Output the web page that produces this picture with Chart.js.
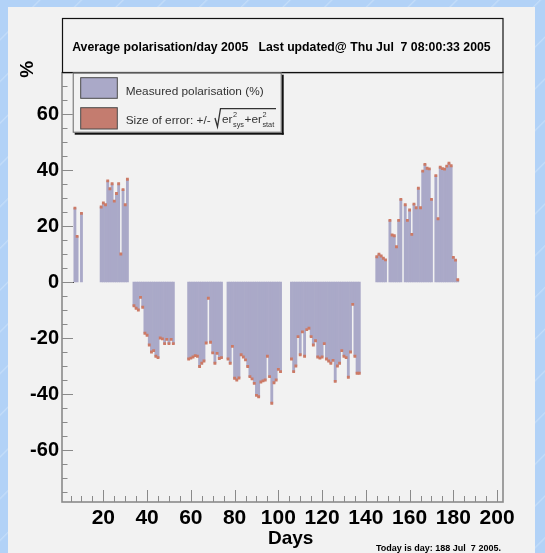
<!DOCTYPE html>
<html>
<head>
<meta charset="utf-8">
<title>Average polarisation/day 2005</title>
<script src="https://cdn.jsdelivr.net/npm/chart.js@4.4.1/dist/chart.umd.min.js"></script>
<style>
  html, body { margin: 0; padding: 0; width: 545px; height: 553px; overflow: hidden; }
  body {
    background: repeating-linear-gradient(135deg, #b2d2f7 0px, #b2d2f7 27px, #c4ddf9 28px, #b2d2f7 29.5px);
  }
  #panel { position: absolute; left: 8px; top: 7px; width: 527px; height: 546px; background: #f2f2f2; }
  #chart { position: absolute; left: 0; top: 0; }
</style>
</head>
<body>
<div id="panel"></div>
<canvas id="chart" width="545" height="553"></canvas>
<script>
document.addEventListener('DOMContentLoaded', function () {
    // --- data: average polarisation per day (%), null = no measurement that day ---
    const firstDay = 7;
    const polarisation = [
        26.4, 16.3, null, 24.5,                                  // days 7-10
        null, null, null, null, null, null, null, null,          // 11-18
        26.8, 28.2, 27.6, 36.1, 33.3, 35.1, 28.9, 31.6, 35.1, 10.0, 33.0, 27.6, 36.7, // 19-31
        null, null,                                              // 32-33
        -8.5, -9.4, -10, -5.5, -9, -18.3, -19, -22.5, -25, -24.5,
        -26.5, -27, -20, -20.3, -22, -20.5, -22, -20.5, -22,     // 34-52
        null, null, null, null, null, null,                      // 53-58
        -27.5, -27.2, -26.8, -26.3, -26.5, -30.2, -29, -28.2,
        -21.8, -5.8, -21.5, -25.3, -29, -25.5, -27.3, -27,       // 59-74
        null, null,                                              // 75-76
        -27.5, -29, -23, -34.4, -35, -34.3, -26, -26.8, -27.8, -30.2, -33.8, -34.6, -36.2,
        -40.5, -41, -35.7, -35.3, -35, -26.5, -33.8, -43.3, -36, -35, -31.2, -32, // 77-101
        null, null, null, null,                                  // 102-105
        -27.5, -32, -30, -19.5, -26, -17.8, -26.5, -17, -16.5, -19.5, -22.5, -21, -26.8, -27.2, -26.8, -22,
        -27.5, -28.2, -29, -28, -35.5, -30, -29, -24.5, -26.5, -27, -34, -25, -8, -26.5, -32.6, -32.6, // 106-137
        null, null, null, null, null, null, null,                // 138-144
        9, 9.9, 9.3, 8.5, 7.9,                                   // 145-149
        null,                                                    // 150
        22, 16.8, 16.5, 12.6, 22, 29.5, null, 27.6, 22, 25.7, 17, 27.8, 26.5, 33.5, 26.5, 39.6,
        42, 40.6, 40.4, 29.5, null, 38, 22.6, 41, 40.5, 40.3, 41.4, 42.4, 41.5, 8.8, 7.8, 0.8 // 151-182
    ];
    const errorSize = 0.4;
    const xTickValues = [20, 40, 60, 80, 100, 120, 140, 160, 180, 200];
    const yTickValues = [-60, -40, -20, 0, 20, 40, 60];

    const titleText = 'Average polarisation/day 2005   Last updated@ Thu Jul  7 08:00:33 2005';
    const legendText = 'Measured polarisation (%)';
    const errorText = 'Size of error: +/- ';
    const footerText = 'Today is day: 188 Jul  7 2005.';

    const FAMILY = '"Liberation Sans", Arial, Helvetica, sans-serif';
    const BAR_COLOR = '#aaa9c8';
    const ERR_COLOR = '#cc7a66';
    const AXIS_COLOR = '#8a8a8a';

    const barPoints = polarisation.map((v, i) => ({ x: firstDay + i, y: v }));
    const errPoints = barPoints
        .filter(p => p.y !== null)
        .map(p => ({ x: p.x, y: [p.y - errorSize, p.y + errorSize] }));

    // font size that makes a string span a given width
    function fitSize(ctx, text, width, weight) {
        ctx.font = weight + ' 20px ' + FAMILY;
        return 20 * width / ctx.measureText(text).width;
    }

    function hline(ctx, x1, x2, y) { ctx.beginPath(); ctx.moveTo(x1, y); ctx.lineTo(x2, y); ctx.stroke(); }
    function vline(ctx, x, y1, y2) { ctx.beginPath(); ctx.moveTo(x, y1); ctx.lineTo(x, y2); ctx.stroke(); }

    const rootStyle = {
        id: 'rootStyle',
        afterDatasetsDraw(chart) {
            const { ctx, chartArea: a, scales: { x, y } } = chart;
            ctx.save();
            // empty bins before the first measurement sit on the zero line
            ctx.strokeStyle = '#222';
            ctx.lineWidth = 1;
            const y0 = Math.round(y.getPixelForValue(0)) + 0.5;
            hline(ctx, a.left, x.getPixelForValue(firstDay - 0.5), y0);

            // frame
            ctx.strokeStyle = AXIS_COLOR;
            ctx.lineWidth = 1.6;
            ctx.strokeRect(a.left, a.top, a.right - a.left, a.bottom - a.top);

            // ticks point inwards
            ctx.lineWidth = 1;
            for (let v = -75; v <= 70; v += 5) {
                const py = Math.round(y.getPixelForValue(v)) + 0.5;
                hline(ctx, a.left, a.left + (v % 20 === 0 ? 11 : 5.5), py);
            }
            for (let d = 5; d <= 200; d += 5) {
                const px = Math.round(x.getPixelForValue(d)) + 0.5;
                vline(ctx, px, a.bottom, a.bottom - (d % 20 === 0 ? 12 : 6));
            }
            ctx.restore();
        },
        afterDraw(chart) {
            const ctx = chart.ctx;
            ctx.save();

            // title pave
            ctx.fillStyle = '#f2f2f2';
            ctx.fillRect(62.5, 18.5, 440.5, 54);
            ctx.strokeStyle = '#111';
            ctx.lineWidth = 1.2;
            ctx.strokeRect(62.5, 18.5, 440.5, 54);
            ctx.fillStyle = '#000';
            ctx.textAlign = 'center';
            ctx.textBaseline = 'alphabetic';
            ctx.font = 'bold ' + fitSize(ctx, titleText, 419, 'bold') + 'px ' + FAMILY;
            ctx.fillText(titleText, 281.4, 50.5);

            // legend pave with shadow
            const L = 72.7, T = 72.7, R = 281.7, B = 132.7;
            ctx.fillStyle = '#f2f2f2';
            ctx.fillRect(L, T, R - L, B - T);
            ctx.fillStyle = '#111';
            ctx.fillRect(R, T + 2, 2, B - T);
            ctx.fillRect(L + 2, B, R - L, 2);
            ctx.strokeStyle = '#666';
            ctx.lineWidth = 1;
            ctx.strokeRect(L + 0.5, T + 0.5, R - L - 1, B - T - 1);

            ctx.fillStyle = BAR_COLOR;
            ctx.fillRect(80.7, 77.7, 36.6, 20.6);
            ctx.strokeStyle = '#4a4a4a';
            ctx.strokeRect(80.7, 77.7, 36.6, 20.6);
            ctx.fillStyle = '#c47c6f';
            ctx.fillRect(80.7, 107.7, 36.6, 21.3);
            ctx.strokeRect(80.7, 107.7, 36.6, 21.3);

            ctx.fillStyle = '#333';
            ctx.textAlign = 'left';
            const ls = fitSize(ctx, legendText, 138, 'normal');
            ctx.font = ls + 'px ' + FAMILY;
            ctx.fillText(legendText, 125.7, 94.5);

            // Size of error: +/- sqrt(er_sys^2 + er_stat^2)
            const base = 123.5;
            ctx.fillText(errorText, 125.7, base);
            let cx = 125.7 + ctx.measureText(errorText).width + 1;
            ctx.strokeStyle = '#333';
            ctx.lineWidth = 1.3;
            ctx.beginPath();
            ctx.moveTo(cx, 118);
            ctx.lineTo(cx + 2.5, 126.8);
            ctx.lineTo(cx + 5.5, 108.7);
            ctx.lineTo(276, 108.7);
            ctx.stroke();
            cx += 7;
            const small = ls * 0.62;
            const parts = [['er', '2', 'sys'], ['+er', '2', 'stat']];
            parts.forEach(([main, sup, sub]) => {
                ctx.font = ls + 'px ' + FAMILY;
                ctx.fillText(main, cx, base - 1);
                cx += ctx.measureText(main).width;
                ctx.font = small + 'px ' + FAMILY;
                ctx.fillText(sup, cx + 0.5, base - 7);
                ctx.fillText(sub, cx + 0.5, base + 3.5);
                cx += Math.max(ctx.measureText(sup).width, ctx.measureText(sub).width) + 1;
            });

            // axis titles
            ctx.fillStyle = '#000';
            ctx.textAlign = 'center';
            ctx.font = 'bold 19px ' + FAMILY;
            ctx.fillText('Days', 290.7, 543.5);
            ctx.save();
            ctx.translate(32.5, 69.2);
            ctx.rotate(-Math.PI / 2);
            ctx.textBaseline = 'alphabetic';
            ctx.font = 'bold 19px ' + FAMILY;
            ctx.fillText('%', 0, 0);
            ctx.restore();

            // footer
            ctx.textAlign = 'left';
            ctx.font = 'bold ' + fitSize(ctx, footerText, 125, 'bold') + 'px ' + FAMILY;
            ctx.fillText(footerText, 376, 550.5);

            ctx.restore();
        }
    };

    new Chart(document.getElementById('chart'), {
        type: 'bar',
        data: {
            datasets: [{
                label: 'error',
                data: errPoints,
                backgroundColor: ERR_COLOR,
                order: 0,
                grouped: false,
                barPercentage: 1,
                categoryPercentage: 1
            }, {
                label: legendText,
                data: barPoints,
                backgroundColor: BAR_COLOR,
                order: 1,
                grouped: false,
                barPercentage: 1,
                categoryPercentage: 1
            }]
        },
        options: {
            responsive: false,
            animation: false,
            layout: { padding: { left: 0, top: 72.7, right: 42, bottom: 0 } },
            plugins: {
                legend: { display: false },
                tooltip: { enabled: false },
                title: { display: false }
            },
            scales: {
                x: {
                    type: 'linear',
                    min: 1.1,
                    max: 202.7,
                    offset: false,
                    grid: { display: false, drawTicks: false },
                    border: { display: false },
                    afterBuildTicks: s => { s.ticks = xTickValues.map(v => ({ value: v })); },
                    afterFit: s => { s.height = 51; },
                    ticks: {
                        font: { family: FAMILY, size: 21, weight: 'bold' },
                        color: '#000',
                        padding: 4,
                        maxRotation: 0,
                        autoSkip: false
                    }
                },
                y: {
                    min: -78.57,
                    max: 74.75,
                    grid: { display: false, drawTicks: false },
                    border: { display: false },
                    afterBuildTicks: s => { s.ticks = yTickValues.map(v => ({ value: v })); },
                    afterFit: s => { s.width = 62; },
                    ticks: {
                        font: { family: FAMILY, size: 20, weight: 'bold' },
                        color: '#000',
                        padding: 3,
                        autoSkip: false
                    }
                }
            }
        },
        plugins: [rootStyle]
    });
});
</script>
</body>
</html>
